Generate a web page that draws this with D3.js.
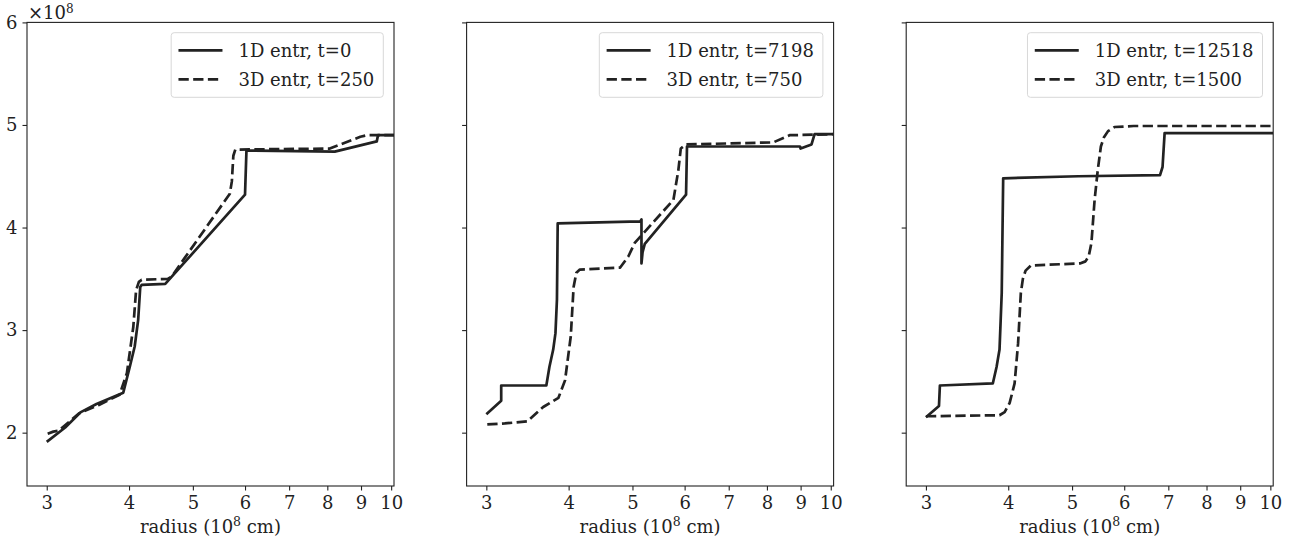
<!DOCTYPE html>
<html>
<head>
<meta charset="utf-8">
<script src="https://cdn.jsdelivr.net/npm/d3@7"></script>
<style>
  body { margin: 0; background: #fff; }
  svg { display: block; }
  text { font-family: "DejaVu Serif", serif; fill: #222; }
</style>
</head>
<body>
<div id="chart"></div>
<script>
// tick labels
const xTicks = [3, 4, 5, 6, 7, 8, 9, 10];
const yTicks = [2, 3, 4, 5, 6];

// legend labels per panel
const labels1D = ["1D entr, t=0", "1D entr, t=7198", "1D entr, t=12518"];
const labels3D = ["3D entr, t=250", "3D entr, t=750", "3D entr, t=1500"];

// [radius (1e8 cm), entropy (1e8)]
const solid1 = [[3.0,1.91],[3.2,2.05],[3.38,2.20],[3.57,2.28],[3.92,2.39],[4.01,2.64],[4.08,2.84],[4.13,3.10],[4.16,3.42],
  [4.18,3.44],[4.54,3.45],[6.0,4.32],[6.03,4.75],[8.21,4.74],[9.51,4.84],[9.55,4.90],[10.1,4.90]];
const dashed1 = [[3.01,1.99],[3.07,2.01],[3.13,2.02],[3.36,2.19],[3.6,2.27],[3.87,2.37],[3.97,2.58],[4.06,3.03],[4.10,3.39],
  [4.14,3.47],[4.18,3.49],[4.58,3.50],[4.64,3.52],[5.69,4.33],[5.73,4.45],[5.76,4.70],[5.80,4.76],[8.07,4.77],
  [8.98,4.885],[9.2,4.90],[10.1,4.90]];

const solid2 = [[3.0,2.18],[3.16,2.31],[3.16,2.46],[3.70,2.46],[3.74,2.64],[3.79,2.81],[3.82,2.97],[3.84,3.3],[3.85,4.04],
  [5.14,4.06],[5.16,4.08],[5.16,3.65],[5.18,3.76],[5.22,3.84],[6.03,4.32],[6.05,4.79],[8.98,4.79],[9.0,4.77],[9.35,4.81],
  [9.45,4.91],[10.1,4.91]];
const dashed2 = [[3.01,2.08],[3.2,2.09],[3.46,2.11],[3.66,2.25],[3.86,2.34],[3.95,2.51],[4.03,2.94],[4.07,3.42],[4.11,3.56],
  [4.16,3.59],[4.79,3.61],[4.93,3.72],[5.04,3.85],[5.77,4.27],[5.87,4.56],[5.92,4.77],[6.03,4.81],[8.18,4.83],
  [8.66,4.90],[10.1,4.91]];

const solid3 = [[3.0,2.15],[3.14,2.26],[3.15,2.46],[3.79,2.48],[3.84,2.64],[3.88,2.81],[3.91,3.36],[3.93,4.48],[5.11,4.50],
  [6.80,4.51],[6.86,4.59],[6.91,4.92],[10.1,4.92]];
const dashed3 = [[3.0,2.16],[3.88,2.17],[3.95,2.20],[4.02,2.29],[4.09,2.48],[4.14,2.87],[4.18,3.36],[4.21,3.50],[4.25,3.58],
  [4.33,3.63],[5.14,3.65],[5.24,3.67],[5.30,3.72],[5.35,3.85],[5.41,4.27],[5.47,4.56],[5.53,4.79],[5.59,4.88],
  [5.67,4.94],[5.80,4.98],[6.2,4.99],[10.1,4.99]];

const panels = [
  { solid: solid1, dashed: dashed1, l1: labels1D[0], l2: labels3D[0] },
  { solid: solid2, dashed: dashed2, l1: labels1D[1], l2: labels3D[1] },
  { solid: solid3, dashed: dashed3, l1: labels1D[2], l2: labels3D[2] }
];

const W = 1297, H = 547;
const panelLeft = [27, 466.6, 906.2];
const pw = 367, plotTop = 22.4, ph = 463.6;
const fs = 18;

const svg = d3.select("#chart").append("svg")
  .attr("width", W).attr("height", H);

const x = d3.scaleLog().domain([2.8, 10.1]).range([0, pw]);
const y = d3.scaleLinear().domain([1.48, 6]).range([ph, 0]);

panels.forEach((p, i) => {
  const g = svg.append("g").attr("transform", `translate(${panelLeft[i]},${plotTop})`);

  g.append("clipPath").attr("id", "clip" + i)
    .append("rect").attr("width", pw).attr("height", ph);

  const line = d3.line().x(d => x(d[0])).y(d => y(d[1]));

  g.append("path").datum(p.dashed)
    .attr("clip-path", `url(#clip${i})`)
    .attr("d", line).attr("fill", "none")
    .attr("stroke", "#222").attr("stroke-width", 2.7)
    .attr("stroke-linejoin", "round")
    .attr("stroke-dasharray", "10.3,4.4");

  g.append("path").datum(p.solid)
    .attr("clip-path", `url(#clip${i})`)
    .attr("d", line).attr("fill", "none")
    .attr("stroke", "#222").attr("stroke-width", 2.7)
    .attr("stroke-linejoin", "round");

  // frame
  g.append("rect").attr("width", pw).attr("height", ph)
    .attr("fill", "none").attr("stroke", "#222").attr("stroke-width", 1.1);

  const xAxis = g.append("g").attr("transform", `translate(0,${ph})`)
    .call(d3.axisBottom(x).tickValues(xTicks).tickFormat(d3.format("d")).tickSize(4.5).tickPadding(6));
  const yAxis = g.append("g")
    .call(d3.axisLeft(y).tickValues(yTicks).tickSize(4.5).tickPadding(5)
      .tickFormat(i === 0 ? d3.format("d") : () => ""));
  [xAxis, yAxis].forEach(a => {
    a.select(".domain").remove();
    a.selectAll(".tick line").attr("stroke", "#222").attr("stroke-width", 1.1);
    a.selectAll(".tick text").attr("font-size", fs).attr("font-family", "DejaVu Serif").attr("fill", "#222");
  });

  const xl = g.append("text")
    .attr("x", pw / 2).attr("y", ph + 47)
    .attr("text-anchor", "middle").attr("font-size", fs);
  xl.append("tspan").text("radius (10");
  xl.append("tspan").attr("dy", -7).attr("font-size", 12.5).text("8");
  xl.append("tspan").attr("dy", 7).text(" cm)");

  // legend
  const lg = g.append("g");
  const box = lg.append("rect");
  const t1 = lg.append("text").attr("font-size", fs).text(p.l1);
  const t2 = lg.append("text").attr("font-size", fs).text(p.l2);
  const tw = Math.max(t1.node().getComputedTextLength(), t2.node().getComputedTextLength());
  const bw = 7.3 + 44 + 16 + tw + 9;
  const bx = pw - 10.7 - bw, by = 10.3;
  box.attr("x", bx).attr("y", by).attr("width", bw).attr("height", 64.6)
    .attr("rx", 3).attr("fill", "#fff").attr("fill-opacity", 0.8)
    .attr("stroke", "#d8d8d8").attr("stroke-width", 1);
  const rows = [by + 17.6, by + 46.6];
  lg.append("line").attr("x1", bx + 7.3).attr("x2", bx + 51.3).attr("y1", rows[0]).attr("y2", rows[0])
    .attr("stroke", "#222").attr("stroke-width", 2.7);
  lg.append("line").attr("x1", bx + 7.3).attr("x2", bx + 51.3).attr("y1", rows[1]).attr("y2", rows[1])
    .attr("stroke", "#222").attr("stroke-width", 2.7).attr("stroke-dasharray", "10.3,4.4");
  t1.attr("x", bx + 67.3).attr("y", rows[0] + 6.5);
  t2.attr("x", bx + 67.3).attr("y", rows[1] + 6.5);
});

// offset label
const ot = svg.append("text").attr("x", 28).attr("y", 18.5).attr("font-size", fs);
ot.append("tspan").text("×10");
ot.append("tspan").attr("dy", -6).attr("font-size", 12).text("8");
</script>
</body>
</html>
